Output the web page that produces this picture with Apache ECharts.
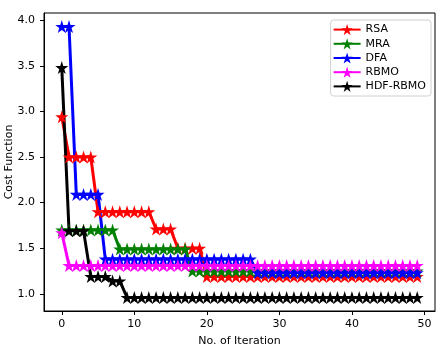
<!DOCTYPE html>
<html>
<head>
<meta charset="utf-8">
<script src="https://cdn.jsdelivr.net/npm/echarts@6/dist/echarts.min.js"></script>
<style>
  html, body { margin: 0; padding: 0; background: #fff; }
  #chart { width: 446px; height: 348px; }
</style>
</head>
<body>
<div id="chart"></div>
<script>
// iterations 0..49
const iterations = [0,1,2,3,4,5,6,7,8,9,10,11,12,13,14,15,16,17,18,19,20,21,22,23,24,25,26,27,28,29,30,31,32,33,34,35,36,37,38,39,40,41,42,43,44,45,46,47,48,49]

const rsa = [2.94, 2.5, 2.5, 2.5, 2.5, 1.9, 1.9, 1.9, 1.9, 1.9, 1.9, 1.9, 1.9, 1.71, 1.71, 1.71, 1.5, 1.5, 1.5, 1.5,
  1.19, 1.19, 1.19, 1.19, 1.19, 1.19, 1.19, 1.19, 1.19, 1.19, 1.19, 1.19, 1.19, 1.19, 1.19, 1.19, 1.19, 1.19, 1.19, 1.19,
  1.19, 1.19, 1.19, 1.19, 1.19, 1.19, 1.19, 1.19, 1.19, 1.19]

const mra = [1.7, 1.7, 1.7, 1.7, 1.7, 1.7, 1.7, 1.7, 1.49, 1.49, 1.49, 1.49, 1.49, 1.49, 1.49, 1.49, 1.49, 1.49,
  1.25, 1.25, 1.25, 1.25, 1.25, 1.25, 1.25, 1.25, 1.25, 1.25, 1.25, 1.25, 1.25, 1.25, 1.25, 1.25, 1.25, 1.25, 1.25, 1.25,
  1.25, 1.25, 1.25, 1.25, 1.25, 1.25, 1.25, 1.25, 1.25, 1.25, 1.25, 1.25]

const dfa = [3.93, 3.93, 2.09, 2.09, 2.09, 2.09, 1.38, 1.38, 1.38, 1.38, 1.38, 1.38, 1.38, 1.38, 1.38, 1.38, 1.38, 1.38,
  1.38, 1.38, 1.38, 1.38, 1.38, 1.38, 1.38, 1.38, 1.38, 1.23, 1.23, 1.23, 1.23, 1.23, 1.23, 1.23, 1.23, 1.23, 1.23, 1.23,
  1.23, 1.23, 1.23, 1.23, 1.23, 1.23, 1.23, 1.23, 1.23, 1.23, 1.23, 1.23]

const rbmo = [1.67, 1.31, 1.31, 1.31, 1.31, 1.31, 1.31, 1.31, 1.31, 1.31, 1.31, 1.31, 1.31, 1.31, 1.31, 1.31, 1.31, 1.31,
  1.31, 1.31, 1.31, 1.31, 1.31, 1.31, 1.31, 1.31, 1.31, 1.31, 1.31, 1.31, 1.31, 1.31, 1.31, 1.31, 1.31, 1.31, 1.31, 1.31,
  1.31, 1.31, 1.31, 1.31, 1.31, 1.31, 1.31, 1.31, 1.31, 1.31, 1.31, 1.31]

const hdfRbmo = [3.48, 1.69, 1.69, 1.69, 1.19, 1.19, 1.19, 1.14, 1.14, 0.96, 0.96, 0.96, 0.96, 0.96, 0.96, 0.96, 0.96, 0.96,
  0.96, 0.96, 0.96, 0.96, 0.96, 0.96, 0.96, 0.96, 0.96, 0.96, 0.96, 0.96, 0.96, 0.96, 0.96, 0.96, 0.96, 0.96, 0.96, 0.96,
  0.96, 0.96, 0.96, 0.96, 0.96, 0.96, 0.96, 0.96, 0.96, 0.96, 0.96, 0.96]

const seriesNames = ['RSA', 'MRA', 'DFA', 'RBMO', 'HDF-RBMO']
const seriesColors = ['#ff0000', '#008000', '#0000ff', '#ff00ff', '#000000']
const seriesData = [rsa, mra, dfa, rbmo, hdfRbmo]

// matplotlib style '*' marker
function starPath(){
    let d = ''
    for(let i = 0; i < 10; i++){
        const r = i % 2 ? 0.382 : 1
        const a = (-90 + i * 36) * Math.PI / 180
        d += (i == 0 ? 'M' : 'L') + (r * Math.cos(a)).toFixed(4) + ' ' + (r * Math.sin(a)).toFixed(4)
    }
    return 'path://' + d + 'Z'
}
const star = starPath()

const font = 'DejaVu Sans'
const chart = echarts.init(document.getElementById('chart'))

const option = {
    animation: false,
    textStyle: { fontFamily: font },
    grid: {
        left: 44, right: 11, top: 13, bottom: 37,
        outerBoundsMode: 'none',
        containLabel: false,
        show: true, borderColor: '#000', borderWidth: 1
    },
    legend: {
        orient: 'vertical',
        right: 15, top: 20,
        data: seriesNames,
        itemWidth: 27, itemHeight: 14, itemGap: 3,
        padding: [4, 5, 4, 2],
        borderColor: '#d0d0d0', borderWidth: 1, borderRadius: 3,
        backgroundColor: '#fff',
        textStyle: { fontFamily: font, fontSize: 11, color: '#000' }
    },
    xAxis: {
        type: 'value',
        min: -2.45, max: 51.45,
        splitNumber: 5,
        name: 'No. of Iteration',
        nameLocation: 'middle', nameGap: 25,
        nameTextStyle: { fontFamily: font, fontSize: 11, color: '#000' },
        axisLine: { show: true, onZero: false, lineStyle: { color: '#000', width: 1 } },
        axisTick: { show: true, inside: false, length: 4, lineStyle: { color: '#000' } },
        axisLabel: { fontFamily: font, fontSize: 11, color: '#000', margin: 8, showMinLabel: false, showMaxLabel: false },
        splitLine: { show: false }
    },
    yAxis: {
        type: 'value',
        min: 0.8115, max: 4.0785,
        splitNumber: 6,
        name: 'Cost Function',
        nameLocation: 'middle', nameGap: 29, nameRotate: 90,
        nameMoveOverlap: false,
        nameTextStyle: { fontFamily: font, fontSize: 11, color: '#000' },
        axisLine: { show: true, onZero: false, lineStyle: { color: '#000', width: 1 } },
        axisTick: { show: true, inside: false, length: 4, lineStyle: { color: '#000' } },
        axisLabel: {
            fontFamily: font, fontSize: 11, color: '#000', margin: 9,
            showMinLabel: false, showMaxLabel: false,
            formatter: v => v.toFixed(1)
        },
        splitLine: { show: false }
    },
    series: seriesNames.map((name, k) => ({
        name: name,
        type: 'line',
        data: iterations.map((it, i) => [it, seriesData[k][i]]),
        symbol: star,
        symbolSize: 13,
        showSymbol: true,
        lineStyle: { color: seriesColors[k], width: 3 },
        itemStyle: { color: seriesColors[k] },
        emphasis: { disabled: true }
    }))
}

chart.setOption(option)
</script>
</body>
</html>
